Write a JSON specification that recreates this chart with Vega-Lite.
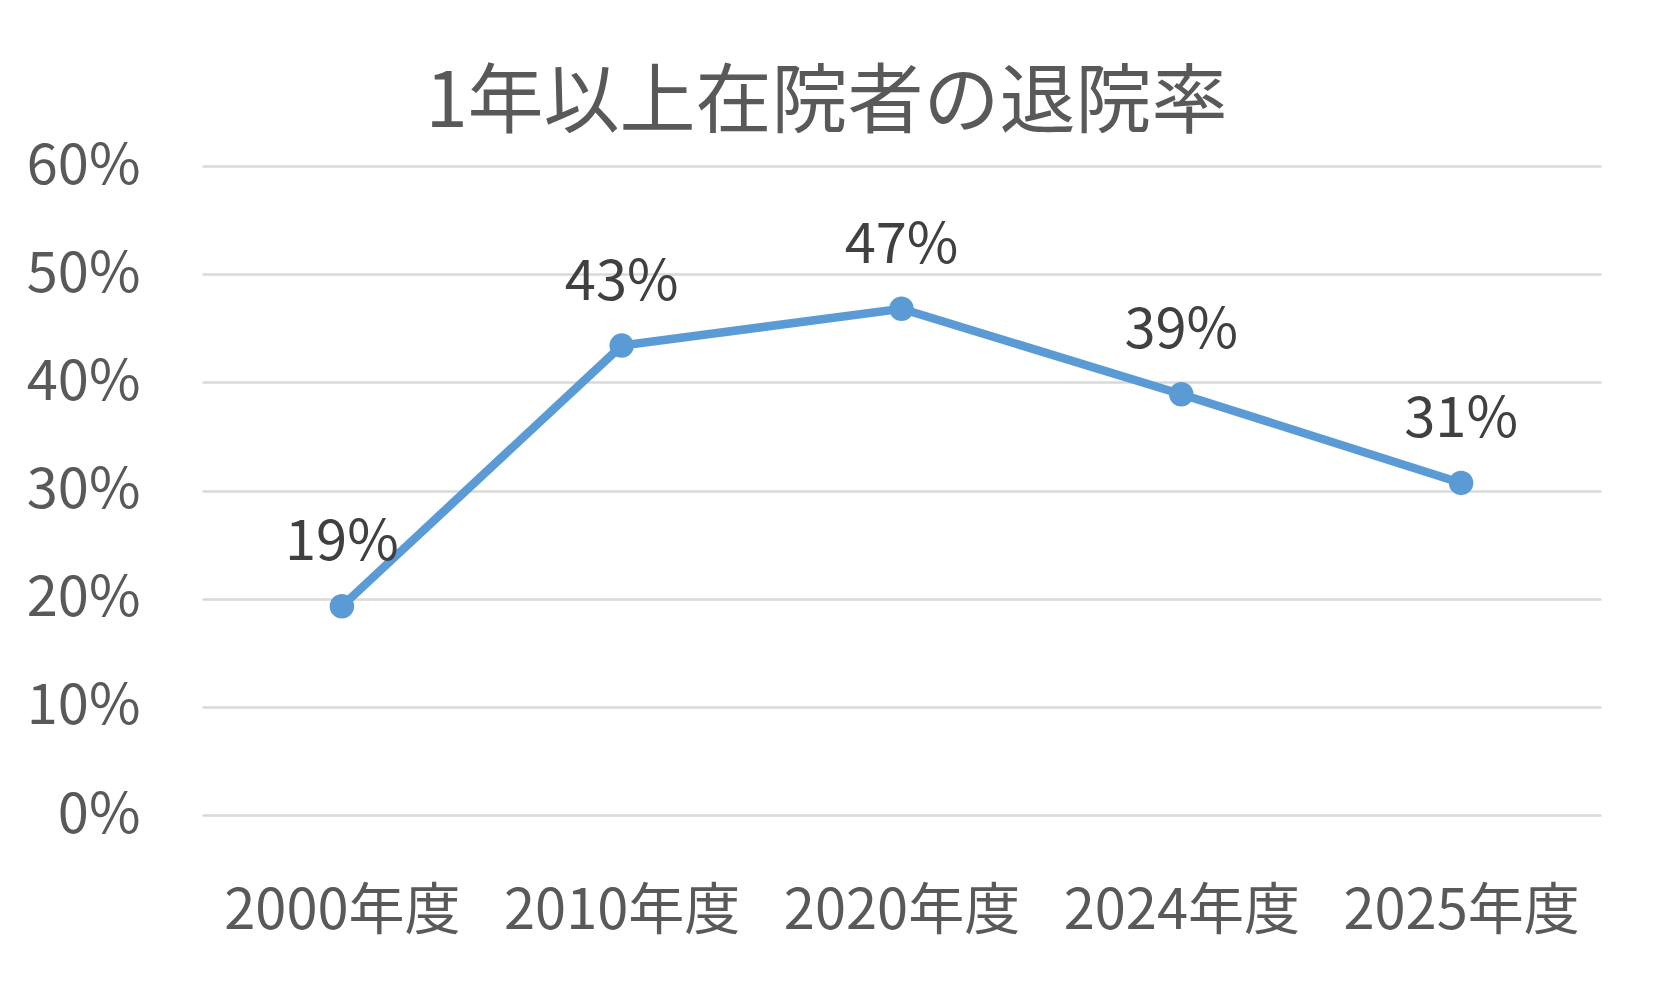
{
  "$schema": "https://vega.github.io/schema/vega-lite/v6.json",
  "width": 1399,
  "height": 649,
  "padding": {"left": 26, "top": 66, "right": 51, "bottom": 10},
  "background": "white",
  "config": {"view": {"stroke": null}, "font": "Noto Sans CJK JP"},
  "title": {
    "text": "1年以上在院者の退院率",
    "fontSize": 76,
    "font": "Noto Sans CJK JP",
    "fontWeight": "normal",
    "color": "#595959",
    "anchor": "middle",
    "dx": -75,
    "offset": -5
  },
  "data": {
    "values": [
      {"year": "2000年度", "rate": 0.193},
      {"year": "2010年度", "rate": 0.434},
      {"year": "2020年度", "rate": 0.468},
      {"year": "2024年度", "rate": 0.389},
      {"year": "2025年度", "rate": 0.307}
    ]
  },
  "encoding": {
    "x": {
      "field": "year",
      "type": "nominal",
      "sort": null,
      "title": null,
      "axis": {
        "labelAngle": 0,
        "labelFontSize": 56,
        "labelColor": "#595959",
        "labelFont": "Noto Sans CJK JP",
        "labelLimit": 0,
        "domain": false,
        "ticks": false,
        "tickSize": 0,
        "grid": false,
        "labelPadding": 69
      }
    },
    "y": {
      "field": "rate",
      "type": "quantitative",
      "title": null,
      "scale": {"domain": [0, 0.6], "nice": false, "zero": true},
      "axis": {
        "values": [0, 0.1, 0.2, 0.3, 0.4, 0.5, 0.6],
        "format": ".0%",
        "labelFontSize": 56,
        "labelColor": "#595959",
        "labelFont": "Noto Sans CJK JP",
        "domain": false,
        "ticks": false,
        "tickSize": 0,
        "grid": true,
        "gridColor": "#D9D9D9",
        "gridWidth": 2.5,
        "labelPadding": 62
      }
    }
  },
  "layer": [
    {
      "mark": {
        "type": "line",
        "color": "#5B9BD5",
        "strokeWidth": 8.5,
        "point": {"filled": true, "size": 600, "color": "#5B9BD5", "opacity": 1}
      }
    },
    {
      "mark": {
        "type": "text",
        "fontSize": 56,
        "font": "Noto Sans CJK JP",
        "color": "#404040",
        "baseline": "middle",
        "align": "center",
        "dy": -63
      },
      "encoding": {
        "text": {"field": "rate", "type": "quantitative", "format": ".0%"}
      }
    }
  ]
}
